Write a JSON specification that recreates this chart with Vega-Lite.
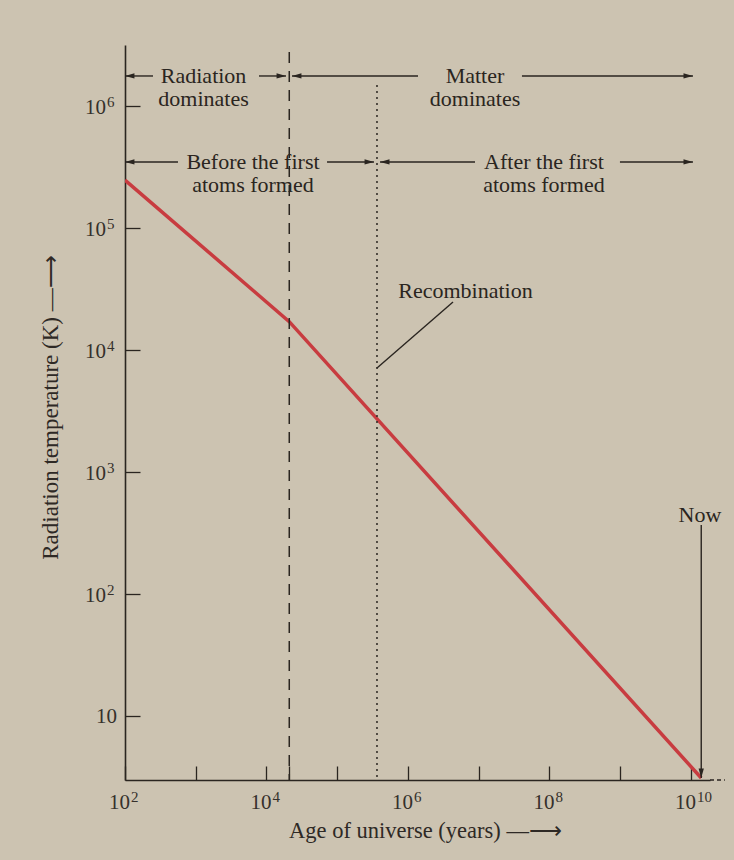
{
  "$schema": "https://vega.github.io/schema/vega-lite/v6.json",
  "width": 585,
  "height": 735,
  "autosize": {"type": "none"},
  "padding": {"left": 125, "top": 45, "right": 24, "bottom": 80},
  "background": "#ccc3b1",
  "config": {
    "view": {"stroke": null},
    "font": "Liberation Serif",
    "axis": {
      "grid": false,
      "domainColor": "#2a2520",
      "domainWidth": 1.6,
      "tickColor": "#2a2520",
      "tickWidth": 1.3,
      "labels": false,
      "titleFont": "Liberation Serif",
      "titleFontWeight": "normal",
      "titleColor": "#2e2925"
    }
  },
  "datasets": {
    "curve": [
      {"age": 100, "temp": 247000},
      {"age": 21000, "temp": 17060},
      {"age": 14000000000, "temp": 3.1}
    ],
    "boundaries": [
      {"kind": "matter-radiation equality", "age": 21000, "top": 2770000, "bottom": 2.985},
      {"kind": "recombination", "age": 365000, "top": 1486000, "bottom": 2.985}
    ],
    "spans": [
      {"row": "dominance", "level": 1762000, "tail": 249, "tip": 100},
      {"row": "dominance", "level": 1762000, "tail": 7830, "tip": 18900},
      {"row": "dominance", "level": 1762000, "tail": 1387000, "tip": 22960},
      {"row": "dominance", "level": 1762000, "tail": 40900000, "tip": 10690000000},
      {"row": "atoms", "level": 347500, "tail": 561, "tip": 100},
      {"row": "atoms", "level": 347500, "tail": 71800, "tip": 331000},
      {"row": "atoms", "level": 347500, "tail": 8870000, "tip": 403000},
      {"row": "atoms", "level": 347500, "tail": 993000000, "tip": 10690000000}
    ],
    "pointers": [
      {"name": "Recombination", "age": 4335000, "temp": 24700, "age2": 365000, "temp2": 7110},
      {"name": "Now", "age": 14000000000, "temp": 368, "age2": 14000000000, "temp2": 3.1}
    ],
    "axisTail": [
      {"age": 18620000000, "age2": 30200000000, "temp": 2.985}
    ],
    "xLabels": [
      {"age": 100, "base": "10", "exp": "2"},
      {"age": 10000, "base": "10", "exp": "4"},
      {"age": 1000000, "base": "10", "exp": "6"},
      {"age": 100000000, "base": "10", "exp": "8"},
      {"age": 10000000000, "base": "10", "exp": "10"}
    ],
    "yLabels": [
      {"temp": 10, "base": "10", "exp": ""},
      {"temp": 100, "base": "10", "exp": "2"},
      {"temp": 1000, "base": "10", "exp": "3"},
      {"temp": 10000, "base": "10", "exp": "4"},
      {"temp": 100000, "base": "10", "exp": "5"},
      {"temp": 1000000, "base": "10", "exp": "6"}
    ],
    "notes": [
      {"label": "Radiation\ndominates", "age": 1291, "temp": 1762000},
      {"label": "Matter\ndominates", "age": 8870000, "temp": 1762000},
      {"label": "Before the first\natoms formed", "age": 6442, "temp": 347500},
      {"label": "After the first\natoms formed", "age": 83700000, "temp": 347500},
      {"label": "Recombination", "age": 6500000, "temp": 30600},
      {"label": "Now", "age": 13430000000, "temp": 445}
    ]
  },
  "layer": [
    {
      "data": {"name": "curve"},
      "mark": {"type": "line", "color": "#c83c40", "strokeWidth": 3.5, "clip": true},
      "encoding": {
        "x": {
          "field": "age", "type": "quantitative",
          "scale": {"type": "log", "domain": [100, 18620000000], "nice": false},
          "axis": {
            "title": "Age of universe (years) —⟶",
            "values": [100, 1000, 10000, 21000, 100000, 1000000, 10000000, 100000000, 1000000000, 10000000000],
            "tickSize": -14,
            "titleFontSize": 22.5,
            "titleX": 300,
            "titleY": 50,
            "titleAlign": "center",
            "titleBaseline": "middle"
          }
        },
        "y": {
          "field": "temp", "type": "quantitative",
          "scale": {"type": "log", "domain": [2.985, 3162000], "nice": false},
          "axis": {
            "title": "Radiation temperature (K) —⟶",
            "values": [10, 100, 1000, 10000, 100000, 1000000],
            "tickSize": -15,
            "titleFontSize": 23,
            "titleX": -75,
            "titleY": 362,
            "titleAngle": -90,
            "titleAlign": "center",
            "titleBaseline": "middle"
          }
        }
      }
    },
    {
      "data": {"name": "boundaries"},
      "mark": {"type": "rule", "color": "#2a2520", "strokeWidth": 1.5},
      "encoding": {
        "x": {"field": "age", "type": "quantitative", "scale": {"type": "log", "domain": [100, 18620000000], "nice": false}},
        "y": {"field": "top", "type": "quantitative", "scale": {"type": "log", "domain": [2.985, 3162000], "nice": false}},
        "y2": {"field": "bottom"},
        "strokeDash": {
          "field": "kind", "type": "nominal",
          "scale": {"domain": ["matter-radiation equality", "recombination"], "range": [[11, 8], [2, 4]]},
          "legend": null
        }
      }
    },
    {
      "data": {"name": "spans"},
      "mark": {"type": "rule", "color": "#2a2520", "strokeWidth": 1.4},
      "encoding": {
        "x": {"field": "tail", "type": "quantitative", "scale": {"type": "log", "domain": [100, 18620000000], "nice": false}},
        "x2": {"field": "tip"},
        "y": {"field": "level", "type": "quantitative", "scale": {"type": "log", "domain": [2.985, 3162000], "nice": false}}
      }
    },
    {
      "data": {"name": "spans"},
      "transform": [{"filter": "datum.tip > datum.tail"}],
      "mark": {"type": "point", "shape": "M0,0L-1.8,-0.5L-1.8,0.5Z", "filled": true, "size": 110, "color": "#2a2520", "opacity": 1},
      "encoding": {
        "x": {"field": "tip", "type": "quantitative", "scale": {"type": "log", "domain": [100, 18620000000], "nice": false}},
        "y": {"field": "level", "type": "quantitative", "scale": {"type": "log", "domain": [2.985, 3162000], "nice": false}}
      }
    },
    {
      "data": {"name": "spans"},
      "transform": [{"filter": "datum.tip < datum.tail"}],
      "mark": {"type": "point", "shape": "M0,0L1.8,-0.5L1.8,0.5Z", "filled": true, "size": 110, "color": "#2a2520", "opacity": 1},
      "encoding": {
        "x": {"field": "tip", "type": "quantitative", "scale": {"type": "log", "domain": [100, 18620000000], "nice": false}},
        "y": {"field": "level", "type": "quantitative", "scale": {"type": "log", "domain": [2.985, 3162000], "nice": false}}
      }
    },
    {
      "data": {"name": "pointers"},
      "mark": {"type": "rule", "color": "#2a2520", "strokeWidth": 1.4},
      "encoding": {
        "x": {"field": "age", "type": "quantitative", "scale": {"type": "log", "domain": [100, 18620000000], "nice": false}},
        "x2": {"field": "age2"},
        "y": {"field": "temp", "type": "quantitative", "scale": {"type": "log", "domain": [2.985, 3162000], "nice": false}},
        "y2": {"field": "temp2"}
      }
    },
    {
      "data": {"name": "pointers"},
      "transform": [{"filter": "datum.name == 'Now'"}],
      "mark": {"type": "point", "shape": "M0,0L-0.5,-1.8L0.5,-1.8Z", "filled": true, "size": 110, "color": "#2a2520", "opacity": 1},
      "encoding": {
        "x": {"field": "age2", "type": "quantitative", "scale": {"type": "log", "domain": [100, 18620000000], "nice": false}},
        "y": {"field": "temp2", "type": "quantitative", "scale": {"type": "log", "domain": [2.985, 3162000], "nice": false}}
      }
    },
    {
      "data": {"name": "axisTail"},
      "mark": {"type": "rule", "color": "#2a2520", "strokeWidth": 1.3, "strokeDash": [4, 3]},
      "encoding": {
        "x": {"field": "age", "type": "quantitative", "scale": {"type": "log", "domain": [100, 18620000000], "nice": false}},
        "x2": {"field": "age2"},
        "y": {"field": "temp", "type": "quantitative", "scale": {"type": "log", "domain": [2.985, 3162000], "nice": false}}
      }
    },
    {
      "data": {"name": "xLabels"},
      "mark": {"type": "text", "font": "Liberation Serif", "fontSize": 21, "color": "#35302b", "align": "right", "baseline": "middle", "dx": 5, "dy": 23},
      "encoding": {
        "x": {"field": "age", "type": "quantitative", "scale": {"type": "log", "domain": [100, 18620000000], "nice": false}},
        "y": {"datum": 2.985, "type": "quantitative", "scale": {"type": "log", "domain": [2.985, 3162000], "nice": false}},
        "text": {"field": "base", "type": "nominal"}
      }
    },
    {
      "data": {"name": "xLabels"},
      "mark": {"type": "text", "font": "Liberation Serif", "fontSize": 15, "color": "#35302b", "align": "left", "baseline": "middle", "dx": 6, "dy": 17},
      "encoding": {
        "x": {"field": "age", "type": "quantitative", "scale": {"type": "log", "domain": [100, 18620000000], "nice": false}},
        "y": {"datum": 2.985, "type": "quantitative", "scale": {"type": "log", "domain": [2.985, 3162000], "nice": false}},
        "text": {"field": "exp", "type": "nominal"}
      }
    },
    {
      "data": {"name": "yLabels"},
      "transform": [{"filter": "datum.exp != ''"}],
      "mark": {"type": "text", "font": "Liberation Serif", "fontSize": 21, "color": "#35302b", "align": "right", "baseline": "middle", "dx": -19, "dy": 2},
      "encoding": {
        "x": {"datum": 100, "type": "quantitative", "scale": {"type": "log", "domain": [100, 18620000000], "nice": false}},
        "y": {"field": "temp", "type": "quantitative", "scale": {"type": "log", "domain": [2.985, 3162000], "nice": false}},
        "text": {"field": "base", "type": "nominal"}
      }
    },
    {
      "data": {"name": "yLabels"},
      "transform": [{"filter": "datum.exp != ''"}],
      "mark": {"type": "text", "font": "Liberation Serif", "fontSize": 15, "color": "#35302b", "align": "left", "baseline": "middle", "dx": -18, "dy": -4},
      "encoding": {
        "x": {"datum": 100, "type": "quantitative", "scale": {"type": "log", "domain": [100, 18620000000], "nice": false}},
        "y": {"field": "temp", "type": "quantitative", "scale": {"type": "log", "domain": [2.985, 3162000], "nice": false}},
        "text": {"field": "exp", "type": "nominal"}
      }
    },
    {
      "data": {"name": "yLabels"},
      "transform": [{"filter": "datum.exp == ''"}],
      "mark": {"type": "text", "font": "Liberation Serif", "fontSize": 21, "color": "#35302b", "align": "right", "baseline": "middle", "dx": -8, "dy": 1},
      "encoding": {
        "x": {"datum": 100, "type": "quantitative", "scale": {"type": "log", "domain": [100, 18620000000], "nice": false}},
        "y": {"field": "temp", "type": "quantitative", "scale": {"type": "log", "domain": [2.985, 3162000], "nice": false}},
        "text": {"field": "base", "type": "nominal"}
      }
    },
    {
      "data": {"name": "notes"},
      "mark": {"type": "text", "font": "Liberation Serif", "fontSize": 22, "lineHeight": 23, "lineBreak": "\n", "color": "#2a2520", "align": "center", "baseline": "middle"},
      "encoding": {
        "x": {"field": "age", "type": "quantitative", "scale": {"type": "log", "domain": [100, 18620000000], "nice": false}},
        "y": {"field": "temp", "type": "quantitative", "scale": {"type": "log", "domain": [2.985, 3162000], "nice": false}},
        "text": {"field": "label", "type": "nominal"}
      }
    }
  ]
}
